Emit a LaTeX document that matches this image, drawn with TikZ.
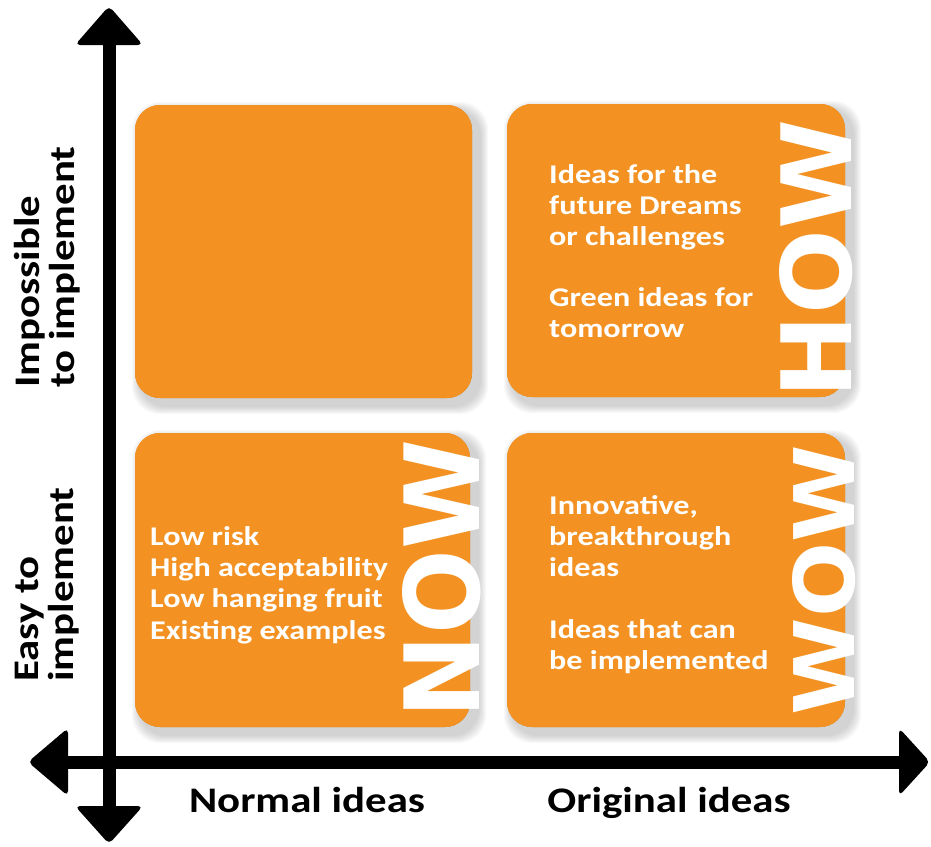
\documentclass[tikz,border=0pt]{standalone}
\usepackage{fontspec}
\setmainfont{Carlito}[FakeStretch=1.19]
\newfontfamily\bigfont{DejaVu Sans}
\usetikzlibrary{calc}
\definecolor{boxorange}{RGB}{243,146,34}
\tikzset{
  box/.style={fill=boxorange, rounded corners=25pt, minimum width=#1, inner sep=0pt},
  boxtxt/.style={text=white, font=\fontsize{27}{31}\selectfont\bfseries, anchor=base west, inner sep=0pt},
  axislbl/.style={font=\fontsize{36}{40}\selectfont\bfseries, inner sep=0pt},
  bigword/.style={text=white, rotate=90, inner sep=0pt},
  axisline/.style={line width=13pt},
  headfill/.style={fill=black, rounded corners=5pt}
}
\newcommand{\shadowof}[1]{%
  \foreach \i in {0,...,7}{%
    \fill[black, opacity=0.025, rounded corners=28pt]
      ($(#1.north west)+(4-\i,4-\i)$) rectangle ($(#1.south east)+(9+\i,9+\i)$);
  }%
}
\begin{document}
\begin{tikzpicture}[x=1pt,y=-1pt]
\useasboundingbox (0,0) rectangle (931,846);
% boxes (positions first, shadows, then fills on top)
\path node[box=337pt, minimum height=293pt] (tl) at (303.5,251.5) {}
      node[box=338pt, minimum height=293pt] (tr) at (676,250.5) {}
      node[box=335pt, minimum height=294pt] (bl) at (302.5,580) {}
      node[box=338pt, minimum height=294pt] (br) at (676,580) {};
\shadowof{tl}\shadowof{tr}\shadowof{bl}\shadowof{br}
\node[box=337pt, minimum height=293pt] at (tl) {};
\node[box=338pt, minimum height=293pt] at (tr) {};
\node[box=335pt, minimum height=294pt] at (bl) {};
\node[box=338pt, minimum height=294pt] at (br) {};
% box texts
\node[boxtxt] (tr1) at (549,183) {Ideas for the};
\node[boxtxt] (tr2) at (549,214) {future Dreams};
\node[boxtxt] (tr3) at (549,245) {or challenges};
\node[boxtxt] (tr4) at (549,306) {Green ideas for};
\node[boxtxt] (tr5) at (549,337) {tomorrow};
\node[boxtxt] (bl1) at (150,545) {Low risk};
\node[boxtxt] (bl2) at (150,576) {High acceptability};
\node[boxtxt] (bl3) at (150,607) {Low hanging fruit};
\node[boxtxt] (bl4) at (150,639) {Existing examples};
\node[boxtxt] (br1) at (549,514) {Innovative,};
\node[boxtxt] (br2) at (549,545) {breakthrough};
\node[boxtxt] (br3) at (549,576) {ideas};
\node[boxtxt] (br4) at (549,638) {Ideas that can};
\node[boxtxt] (br5) at (549,669) {be implemented};
% big words
\node[bigword] (now) at (441.5,579) {\resizebox{278pt}{77pt}{\bigfont\bfseries NOW}};
\node[bigword] (how) at (816,259) {\resizebox{278pt}{72pt}{\bigfont\bfseries HOW}};
\node[bigword] (wow) at (824,580) {\resizebox{270pt}{62pt}{\bigfont\bfseries WOW}};
% axes
\coordinate (O) at (109,762);
\coordinate (ytop) at (109,6);
\coordinate (ybot) at (109,844);
\coordinate (xleft) at (28,762);
\coordinate (xright) at (930,762);
\draw[axisline] ($(ytop)+(0,30)$) -- ($(ybot)+(0,-30)$);
\draw[axisline] ($(xleft)+(30,0)$) -- ($(xright)+(-30,0)$);
\fill[headfill] ($(ytop)+(0,39)$) -- ($(ytop)+(34,39)$) -- (ytop) -- ($(ytop)+(-34,39)$) -- cycle;
\fill[headfill] ($(ybot)+(0,-38)$) -- ($(ybot)+(34,-38)$) -- (ybot) -- ($(ybot)+(-34,-38)$) -- cycle;
\fill[headfill] ($(xleft)+(40,0)$) -- ($(xleft)+(40,-34)$) -- (xleft) -- ($(xleft)+(40,34)$) -- cycle;
\fill[headfill] ($(xright)+(-31,0)$) -- ($(xright)+(-31,-34)$) -- (xright) -- ($(xright)+(-31,34)$) -- cycle;
% axis labels
\node[axislbl, anchor=base] (xl1) at (307,812) {Normal ideas};
\node[axislbl, anchor=base] (xl2) at (669,812) {Original ideas};
\node[axislbl, rotate=90, anchor=base west] (yl1) at (39,388) {Impossible};
\node[axislbl, rotate=90, anchor=base west] (yl2) at (74,388) {to implement};
\node[axislbl, rotate=90, anchor=base west] (yl3) at (38,682) {Easy to};
\node[axislbl, rotate=90, anchor=base west] (yl4) at (73,682) {implement};
\end{tikzpicture}
\end{document}
